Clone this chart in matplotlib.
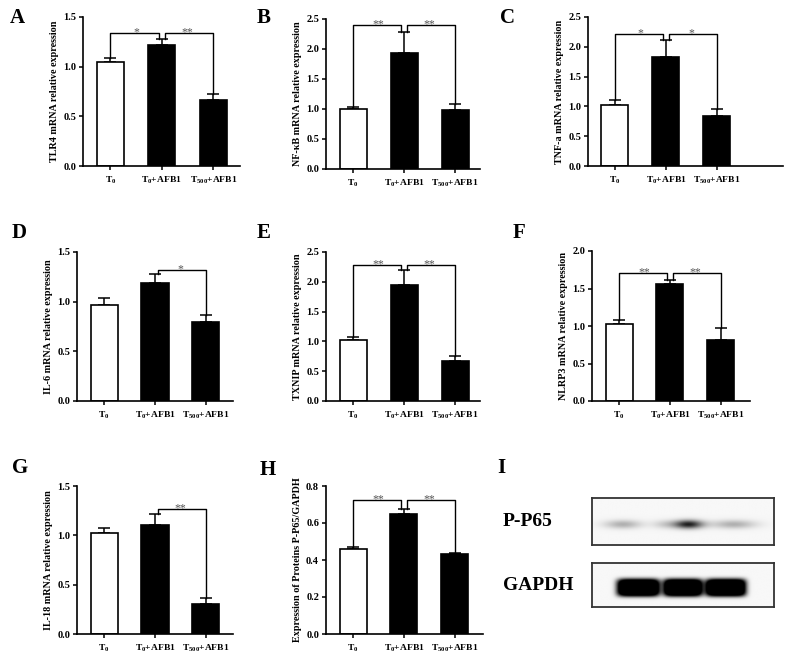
import numpy as np
import matplotlib
matplotlib.use("Agg")
from matplotlib import pyplot as plt

plt.rcParams['font.family'] = ['Liberation Serif', 'DejaVu Serif']
plt.rcParams['font.weight'] = 'bold'
plt.rcParams['mathtext.fontset'] = 'custom'
plt.rcParams['mathtext.rm'] = 'Liberation Serif'
plt.rcParams['mathtext.bf'] = 'Liberation Serif:bold'

groups = ['T$_{\\mathrm{0}}$', 'T$_{\\mathrm{0}}$+AFB1', 'T$_{\\mathrm{500}}$+AFB1']

tlr4 = [1.05, 1.22, 0.66]
tlr4_err = [0.04, 0.06, 0.06]
nfkb = [1.00, 1.94, 0.98]
nfkb_err = [0.04, 0.34, 0.10]
tnf = [1.03, 1.83, 0.84]
tnf_err = [0.07, 0.29, 0.12]
il6 = [0.965, 1.19, 0.80]
il6_err = [0.07, 0.09, 0.07]
txnip = [1.03, 1.94, 0.67]
txnip_err = [0.04, 0.26, 0.08]
nlrp3 = [1.03, 1.56, 0.82]
nlrp3_err = [0.05, 0.05, 0.16]
il18 = [1.02, 1.10, 0.30]
il18_err = [0.05, 0.12, 0.06]
pp65 = [0.457, 0.646, 0.430]
pp65_err = [0.013, 0.028, 0.006]

# blot bands: lane centre (fraction of box), half width, strength
pp65_band_x = [0.17, 0.40, 0.53, 0.78]
pp65_band_w = [0.10, 0.07, 0.08, 0.12]
pp65_band_i = [0.28, 0.15, 0.85, 0.28]
gapdh_band_x = [0.255, 0.50, 0.735]
gapdh_band_w = [0.118, 0.108, 0.112]
gapdh_band_i = [1.8, 1.8, 1.8]

W, H = 787, 662
fig = plt.figure(figsize=(W / 100, H / 100), dpi=100)


def px_axes(l, r, t, b):
    return fig.add_axes([l / W, 1 - b / H, (r - l) / W, (b - t) / H])


def bar_panel(l, r, t, b, vals, errs, ymax, step, ylabel, sig, xr):
    ax = px_axes(l, r, t, b)
    x = np.arange(len(vals))
    ax.bar(x, vals, width=0.53, color=['white', 'black', 'black'],
           edgecolor='black', linewidth=1.2, zorder=2)
    ax.errorbar(x, vals, yerr=[[0] * len(vals), errs], fmt='none',
                ecolor='black', elinewidth=1.1, capsize=4, capthick=1.1, zorder=1)
    ax.set_xlim(-0.53, xr)
    ax.set_ylim(0, ymax)
    ax.set_yticks(np.arange(0, ymax + 1e-9, step))
    ax.yaxis.set_major_formatter(matplotlib.ticker.FormatStrFormatter('%.1f'))
    ax.set_xticks(x)
    ax.set_xticklabels(groups)
    for s in ['top', 'right']:
        ax.spines[s].set_visible(False)
    for s in ['left', 'bottom']:
        ax.spines[s].set_linewidth(1.2)
    ax.tick_params(axis='both', direction='out', length=3, width=1.1, pad=2)
    ax.tick_params(axis='y', labelsize=7.5)
    ax.tick_params(axis='x', labelsize=6.8, pad=3)
    ax.set_ylabel(ylabel, fontsize=7.3, fontweight='bold', labelpad=3)
    tops = [v + e for v, e in zip(vals, errs)]
    for i, j, h, txt in sig:
        xi = i + (0.06 if i == 1 else 0)
        xj = j - (0.06 if j == 1 else 0)
        ax.plot([xi, xi, xj, xj], [tops[i], h, h, tops[j]], color='black',
                lw=1.0, clip_on=False, zorder=3)
        ax.annotate(txt, ((i + j) / 2, h), xytext=(0, -4),
                    textcoords='offset points', ha='center', va='bottom',
                    fontsize=8.5, color='#555555', fontweight='normal')
    return ax


bar_panel(83, 240, 17, 166, tlr4, tlr4_err, 1.5, 0.5,
          'TLR4 mRNA relative expression', [(0, 1, 1.34, '*'), (1, 2, 1.34, '**')], 2.52)
bar_panel(326, 480, 19, 169, nfkb, nfkb_err, 2.5, 0.5,
          'NF-κB mRNA relative expression', [(0, 1, 2.4, '**'), (1, 2, 2.4, '**')], 2.49)
bar_panel(588, 783, 17, 166, tnf, tnf_err, 2.5, 0.5,
          'TNF-a mRNA relative expression', [(0, 1, 2.22, '*'), (1, 2, 2.22, '*')], 3.3)
bar_panel(77, 233, 252, 401, il6, il6_err, 1.5, 0.5,
          'IL-6 mRNA relative expression', [(1, 2, 1.32, '*')], 2.53)
bar_panel(326, 480, 252, 401, txnip, txnip_err, 2.5, 0.5,
          'TXNIP mRNA relative expression', [(0, 1, 2.29, '**'), (1, 2, 2.29, '**')], 2.49)
bar_panel(592, 750, 251, 401, nlrp3, nlrp3_err, 2.0, 0.5,
          'NLRP3 mRNA relative expression', [(0, 1, 1.71, '**'), (1, 2, 1.71, '**')], 2.57)
bar_panel(77, 233, 486, 634, il18, il18_err, 1.5, 0.5,
          'IL-18 mRNA relative expression', [(1, 2, 1.27, '**')], 2.53)
bar_panel(326, 483, 486, 634, pp65, pp65_err, 0.8, 0.2,
          'Expression of Proteins P-P65/GAPDH', [(0, 1, 0.726, '**'), (1, 2, 0.726, '**')], 2.55)


def blot(l, r, t, b, xs, ws, ints, px, py, yc, yh):
    ax = px_axes(l, r, t, b)
    gx = np.linspace(0, 1, 400)
    gy = np.linspace(0, 1, 100)
    X, Y = np.meshgrid(gx, gy)
    img = np.full(X.shape, 0.03)
    for cx, w, s in zip(xs, ws, ints):
        img += s * np.exp(-np.abs((X - cx) / w) ** px) * \
            np.exp(-np.abs((Y - yc) / yh) ** py)
    img = np.clip(img, 0, 1)
    ax.imshow(img, cmap='gray_r', vmin=0, vmax=1, aspect='auto',
              extent=(0, 1, 1, 0), interpolation='bilinear')
    ax.set_xticks([])
    ax.set_yticks([])
    for s in ax.spines.values():
        s.set_linewidth(1.3)
        s.set_color('#333333')
    return ax


blot(592, 774, 498, 545, pp65_band_x, pp65_band_w, pp65_band_i, 2, 2, 0.57, 0.09)
blot(592, 774, 563, 607, gapdh_band_x, gapdh_band_w, gapdh_band_i, 6, 4, 0.56, 0.2)

fig.text(503 / W, 1 - 522 / H, 'P-P65', fontsize=14, fontweight='bold', va='center')
fig.text(503 / W, 1 - 585 / H, 'GAPDH', fontsize=14, fontweight='bold', va='center')

letters = [('A', 10, 8), ('B', 257, 8), ('C', 500, 8),
           ('D', 12, 223), ('E', 257, 223), ('F', 513, 223),
           ('G', 12, 458), ('H', 260, 460), ('I', 497, 458)]
for s, lx, ly in letters:
    fig.text(lx / W, 1 - ly / H, s, fontsize=15, fontweight='bold', va='top', ha='left')

fig.savefig('out.png', dpi=100)
